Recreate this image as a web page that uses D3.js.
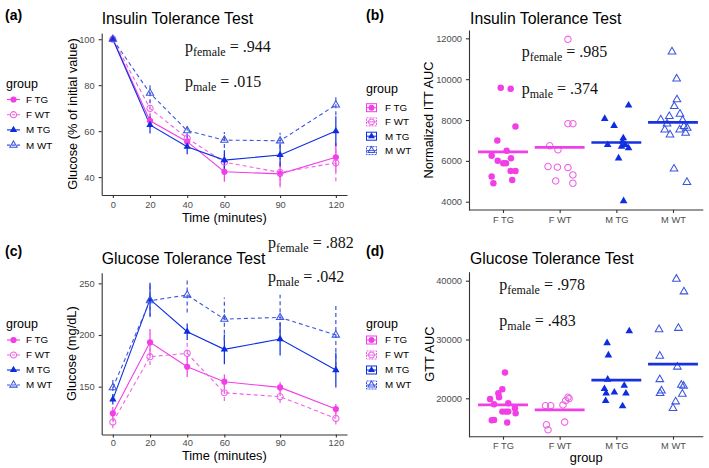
<!DOCTYPE html>
<html><head><meta charset="utf-8">
<script src="https://cdn.jsdelivr.net/npm/d3@7"></script>
<style>body{margin:0;background:#fff}svg{display:block}</style>
</head><body>
<svg id="chart" width="709" height="468"></svg>
<script>
// ---------- data ----------
const groups = ["F TG","F WT","M TG","M WT"];
const times = [0,20,40,60,90,120];
const timeTicks = [0,20,40,60,90,120];
const ittYTicks = [40,60,80,100];
const gttYTicks = [150,200,250];
const ittAucTicks = [4000,6000,8000,10000,12000];
const gttAucTicks = [20000,30000,40000];

const ittFTG    = [100, 64.5, 55.4, 42.3, 41.4, 48.6];
const ittFTGerr = [0.6, 3.0, 3.0, 4.3, 5.0, 6.2];
const ittFWT    = [100, 69.9, 56.9, 46.5, 42.0, 46.2];
const ittFWTerr = [0.6, 3.5, 3.0, 3.5, 6.5, 8.0];
const ittMTG    = [100, 62.7, 53.2, 47.4, 49.6, 60.0];
const ittMTGerr = [0.6, 3.7, 3.3, 4.3, 5.0, 6.5];
const ittMWT    = [100, 76.5, 60.2, 56.1, 55.8, 71.4];
const ittMWTerr = [0.6, 4.4, 3.0, 3.5, 3.5, 4.5];

const gttFTG    = [124.2, 192.9, 169.3, 154.8, 149.3, 128.3];
const gttFTGerr = [6, 13, 10, 7, 5, 5];
const gttFWT    = [115.7, 179.0, 182.2, 144.1, 140.3, 119.3];
const gttFWTerr = [6, 8, 14, 8, 6, 6];
const gttMTG    = [137.7, 234.5, 203.2, 186.1, 196.1, 166.1];
const gttMTGerr = [5, 16, 8, 14.5, 16, 17];
const gttMWT    = [149.0, 233.2, 238.7, 215.4, 217.0, 200.0];
const gttMWTerr = [10, 16, 17, 21, 22, 30];

// AUC per animal, with horizontal jitter (fraction of category step)
const ittAucFTG = [9575,9527,7687,7000,6492,6246,6000,6133,5887,5887,5508,5508,5230,5066,4903];
const ittJitFTG = [-0.04,0.135,0.22,-0.1,0.065,-0.2,-0.093,0.14,0.005,0.053,0.135,0.22,-0.2,0.163,-0.17];
const ittAucFWT = [11950,7820,7820,6738,6541,5720,5690,5670,5312,5018,4903];
const ittJitFWT = [0.146,0.146,0.233,-0.175,-0.03,-0.205,-0.04,0.146,0.233,-0.07,0.233];
const ittAucMTG = [8720,8066,7722,7117,6950,6787,6705,6623,6787,6132,4033];
const ittJitMTG = [0.216,-0.205,-0.04,0.123,0.11,-0.153,0.093,0.216,0.158,0.04,0.128];
const ittAucMWT = [11344,10018,9000,8670,8297,8180,8016,7983,7820,7688,7525,7525,7607,7361,7279,5607,4953];
const ittJitMWT = [-0.018,0.065,0.07,0.023,0.123,-0.065,-0.216,0.17,-0.105,0.193,-0.146,0.118,0.25,0.223,-0.053,0.018,0.246];
const ittAucMean = [6443, 6656, 6900, 7885];

const gttAucFTG = [24400,21520,20845,19880,20170,18985,19155,18310,17735,17735,17735,17465,16280,16330,15880];
const gttJitFTG = [0.035,-0.012,-0.082,-0.228,-0.07,-0.158,0.093,0.21,-0.012,0.047,0.093,0.223,-0.198,-0.158,0.075];
const gttAucFWT = [18750,18750,18870,19600,20170,19950,15490,14640,15950];
const gttJitFWT = [-0.25,-0.158,0.058,0.105,0.146,0.167,-0.233,-0.205,0.088];
const gttAucMTG = [29400,27320,31430,23210,21600,21010,22150,20840,20840,19570,18670];
const gttJitMTG = [-0.163,-0.14,0.228,-0.153,-0.21,-0.035,0.14,0.17,-0.18,-0.188,0.11];
const gttAucMWT = [40280,38130,31710,31930,27200,25340,23210,21290,20840,22250,22080,20730,19430,18310];
const gttJitMWT = [0.06,0.193,-0.246,0.095,-0.233,0.077,-0.233,-0.204,-0.228,0.147,0.188,0.165,0.047,0];
const gttAucMean = [18870, 18020, 23090, 25800];

// ---------- styles ----------
const SANS = "'Liberation Sans', Arial, sans-serif";
const SERIF = "'Liberation Serif', 'Times New Roman', serif";
const ST = {
  "F TG": {color:"#F23EE6", fill:true,  shape:"circle",   dash:null},
  "F WT": {color:"#EE62E6", fill:false, shape:"circle",   dash:"4,3"},
  "M TG": {color:"#0C2DE0", fill:true,  shape:"triangle", dash:null},
  "M WT": {color:"#3B55E0", fill:false, shape:"triangle", dash:"4,3"}
};
const svg = d3.select("#chart");
const fmt = d3.format("d");

function marker(sel, g, x, y, k) {
  k = k || 1;
  const st = ST[g];
  const size = st.shape === "circle" ? 30*k : 23*k;
  sel.append("path")
    .attr("d", d3.symbol().type(st.shape === "circle" ? d3.symbolCircle : d3.symbolTriangle).size(size)())
    .attr("transform", `translate(${x},${y})`)
    .attr("fill", st.fill ? st.color : "none")
    .attr("stroke", st.fill ? "none" : st.color)
    .attr("stroke-width", 1.05);
}

function styleAxis(a) {
  a.select(".domain").attr("stroke", "#333").attr("stroke-width", 1.1);
  a.selectAll(".tick line").attr("stroke", "#333").attr("stroke-width", 1.1);
  a.selectAll(".tick text").attr("fill", "#4D4D4D").style("font-family", SANS).style("font-size", "9.3px");
}

function txt(x, y, s, size, opts) {
  opts = opts || {};
  const t = svg.append("text").attr("x", x).attr("y", y).text(s)
    .style("font-family", opts.family || SANS).style("font-size", size + "px")
    .attr("fill", opts.fill || "#000");
  if (opts.anchor) t.attr("text-anchor", opts.anchor);
  if (opts.bold) t.style("font-weight", "bold");
  if (opts.rotate) t.attr("transform", `rotate(-90,${x},${y})`);
  return t;
}

function pLabel(x, y, sub, val) {
  const t = svg.append("text").attr("x", x).attr("y", y).style("font-family", SERIF).attr("fill", "#111");
  t.append("tspan").style("font-size", "16px").text("p");
  t.append("tspan").style("font-size", "12px").attr("dy", 4).text(sub);
  t.append("tspan").style("font-size", "16px").attr("dy", -4).text(" = " + val);
}

// ---------- time-course panels ----------
function timePanel(L, means, errs, yDomain, yTicks, title, ytitle, tag, legendY, pvals) {
  const x = d3.scaleLinear().domain([-6, 126]).range([L.l, L.r]);
  const y = d3.scaleLinear().domain(yDomain).range([L.b, L.t]);
  const g = svg.append("g");

  groups.forEach((grp, i) => {
    const st = ST[grp];
    const pts = times.map((t, j) => ({t, v: means[i][j], e: errs[i][j]}));
    g.append("path").datum(pts)
      .attr("d", d3.line().x(d => x(d.t)).y(d => y(d.v)))
      .attr("fill", "none").attr("stroke", st.color).attr("stroke-width", 1.1)
      .attr("stroke-dasharray", st.dash);
    pts.forEach(d => {
      g.append("line").attr("x1", x(d.t)).attr("x2", x(d.t))
        .attr("y1", y(d.v - d.e)).attr("y2", y(d.v + d.e))
        .attr("stroke", st.color).attr("stroke-width", 1.2).attr("stroke-dasharray", st.dash);
    });
  });
  groups.forEach((grp, i) => {
    times.forEach((t, j) => marker(g, grp, x(t), y(means[i][j])));
  });

  const ax = svg.append("g").attr("transform", `translate(0,${L.b})`)
    .call(d3.axisBottom(x).tickValues(timeTicks).tickFormat(fmt).tickSize(3).tickSizeOuter(0).tickPadding(L.xPad));
  styleAxis(ax);
  const ay = svg.append("g").attr("transform", `translate(${L.l},0)`)
    .call(d3.axisLeft(y).tickValues(yTicks).tickFormat(fmt).tickSize(3).tickSizeOuter(0).tickPadding(4));
  styleAxis(ay);

  txt(L.l, L.titleY, title, 15.8);
  txt((L.l + L.r) / 2, L.xTitleY, "Time (minutes)", 12.8, {anchor: "middle"});
  txt(76.5, (L.t + L.b) / 2, ytitle, 12.8, {anchor: "middle", rotate: true});
  txt(5, L.tagY, tag, 14, {bold: true});

  // legend
  txt(6, legendY[0], "group", 12.5);
  groups.forEach((grp, i) => {
    const st = ST[grp];
    const yy = legendY[i + 1];
    svg.append("line").attr("x1", 7).attr("x2", 20).attr("y1", yy).attr("y2", yy)
      .attr("stroke", st.color).attr("stroke-width", 1.1).attr("stroke-dasharray", st.dash ? "3,2" : null);
    marker(svg, grp, 13.5, yy);
    txt(26, yy + 3.4, grp, 9.8);
  });

  pvals.forEach(p => pLabel(p[0], p[1], p[2], p[3]));
}

// ---------- AUC panels ----------
function aucPanel(L, vals, jits, meanVals, yDomain, yTicks, title, ytitle, tag, legendY, pvals, xTitle) {
  const x = d3.scalePoint().domain(groups).range([L.l, 707]).padding(0.6);
  const y = d3.scaleLinear().domain(yDomain).range([L.b, L.t]);
  const step = x.step();
  const g = svg.append("g");

  groups.forEach((grp, i) => {
    vals[i].forEach((v, j) => marker(g, grp, x(grp) + jits[i][j] * step, y(v), 1.1));
  });
  groups.forEach((grp, i) => {
    g.append("line").attr("x1", x(grp) - 0.44 * step).attr("x2", x(grp) + 0.44 * step)
      .attr("y1", y(meanVals[i])).attr("y2", y(meanVals[i]))
      .attr("stroke", i < 2 ? "#F23EE6" : "#1632E0").attr("stroke-width", 2.7);
  });

  const ax = svg.append("g").attr("transform", `translate(0,${L.b})`)
    .call(d3.axisBottom(x).tickSize(3).tickSizeOuter(0).tickPadding(3));
  styleAxis(ax);
  ax.select(".domain").attr("d", `M${L.l},0H${L.axR}`);
  const ay = svg.append("g").attr("transform", `translate(${L.l},0)`)
    .call(d3.axisLeft(y).tickValues(yTicks).tickFormat(fmt).tickSize(3).tickSizeOuter(0).tickPadding(4));
  styleAxis(ay);

  txt(L.l + 1, L.titleY, title, 15.8);
  txt(L.yTitleX, (L.t + L.b) / 2, ytitle, 12.8, {anchor: "middle", rotate: true});
  if (xTitle) txt((L.l + L.axR) / 2, L.xTitleY, xTitle, 12.8, {anchor: "middle"});
  txt(366, L.tagY, tag, 14, {bold: true});

  txt(366, legendY[0], "group", 12.5);
  groups.forEach((grp, i) => {
    const st = ST[grp];
    const yy = legendY[i + 1];
    svg.append("rect").attr("x", 366.5).attr("y", yy - 4).attr("width", 10).attr("height", 8)
      .attr("fill", "#fff").attr("stroke", st.color).attr("stroke-width", 1)
      .attr("stroke-dasharray", st.dash ? "2,1" : null);
    svg.append("line").attr("x1", 366.5).attr("x2", 376.5).attr("y1", yy).attr("y2", yy)
      .attr("stroke", st.color).attr("stroke-width", 1);
    marker(svg, grp, 371.5, yy, 0.9);
    txt(385, yy + 3.4, grp, 9.8);
  });

  pvals.forEach(p => pLabel(p[0], p[1], p[2], p[3]));
}

timePanel({l: 101.7, r: 347, t: 33, b: 195, titleY: 24.3, xTitleY: 222, tagY: 19.5, xPad: 3},
  [ittFTG, ittFWT, ittMTG, ittMWT], [ittFTGerr, ittFWTerr, ittMTGerr, ittMWTerr],
  [32.2, 102.7], ittYTicks, "Insulin Tolerance Test", "Glucose (% of initial value)", "(a)",
  [88, 99.5, 114.7, 129.9, 145.1],
  [[185, 51.5, "female", ".944"], [185, 87, "male", ".015"]]);

timePanel({l: 101.7, r: 347, t: 272.7, b: 434.5, titleY: 264, xTitleY: 459.5, tagY: 256, xPad: 2},
  [gttFTG, gttFWT, gttMTG, gttMWT], [gttFTGerr, gttFWTerr, gttMTGerr, gttMWTerr],
  [103.7, 260.3], gttYTicks, "Glucose Tolerance Test", "Glucose (mg/dL)", "(c)",
  [327.5, 340, 355, 370, 385],
  [[268, 248, "female", ".882"], [268, 281.5, "male", ".042"]]);

aucPanel({l: 469, axR: 703.3, t: 30, b: 210, titleY: 24.3, yTitleX: 433, tagY: 19.5},
  [ittAucFTG, ittAucFWT, ittAucMTG, ittAucMWT], [ittJitFTG, ittJitFWT, ittJitMTG, ittJitMWT], ittAucMean,
  [3594, 12408], ittAucTicks, "Insulin Tolerance Test", "Normalized ITT AUC", "(b)",
  [93, 107.7, 121.9, 136.2, 150.6],
  [[521.7, 57.3, "female", ".985"], [521.7, 93.5, "male", ".374"]], null);

aucPanel({l: 469, axR: 703.3, t: 271.7, b: 436.7, titleY: 264, yTitleX: 434, tagY: 256, xTitleY: 461.5},
  [gttAucFTG, gttAucFWT, gttAucMTG, gttAucMWT], [gttJitFTG, gttJitFWT, gttJitMTG, gttJitMWT], gttAucMean,
  [13470, 41530], gttAucTicks, "Glucose Tolerance Test", "GTT AUC", "(d)",
  [327.5, 340, 355, 370, 385],
  [[499.3, 290, "female", ".978"], [499.3, 325.5, "male", ".483"]], "group");
</script>
</body></html>
